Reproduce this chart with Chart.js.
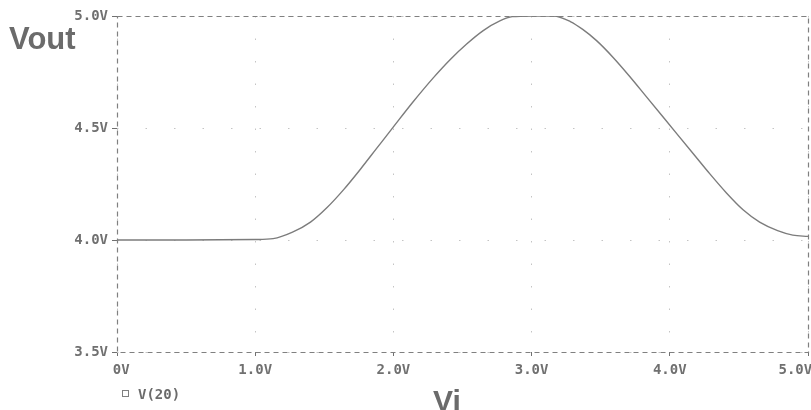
<!DOCTYPE html>
<html>
<head>
<meta charset="utf-8">
<script src="https://cdn.jsdelivr.net/npm/chart.js@4"></script>
<style>
  body { margin: 0; background: #fff; }
  #wrap { position: relative; width: 811px; height: 410px; overflow: hidden; }
  .lbl { position: absolute; color: #6b6b6b; white-space: nowrap; line-height: 1; }
  #vout { left: 9px; top: 21px; font: bold 31px "Liberation Sans", Arial, sans-serif; }
  #vi { left: 433px; top: 384px; font: bold 30px "Liberation Sans", Arial, sans-serif; }
  #leg { left: 138px; top: 386px; font: bold 14px "DejaVu Sans Mono", monospace; }
  #legBox { position: absolute; left: 122px; top: 390px; width: 5px; height: 5px; border: 1px solid #808080; }
</style>
</head>
<body>
<div id="wrap">
  <canvas id="grafico" width="811" height="410"></canvas>
  <div class="lbl" id="vout">Vout</div>
  <div class="lbl" id="vi">Vi</div>
  <div id="legBox"></div>
  <div class="lbl" id="leg">V(20)</div>
</div>
<script>
// Dati: tensione di ingresso Vi (V) e uscita V(20)
const viValues = [0, 0.5, 1.0, 1.13, 1.27, 1.40, 1.52, 1.64, 1.76, 1.88, 2.00, 2.14, 2.29, 2.41, 2.53, 2.65, 2.77, 2.86,
    3.0, 3.16, 3.28, 3.37, 3.47, 3.59, 3.71, 3.83, 3.95, 4.05, 4.17, 4.29, 4.41, 4.53, 4.65, 4.78, 4.89, 5.0];
const voutValues = [4.0, 4.0, 4.002, 4.006, 4.035, 4.08, 4.145, 4.225, 4.315, 4.41, 4.505, 4.615, 4.725, 4.805, 4.875, 4.935, 4.978, 4.997,
    5.0, 5.0, 4.975, 4.94, 4.89, 4.815, 4.73, 4.64, 4.55, 4.475, 4.385, 4.295, 4.21, 4.135, 4.08, 4.042, 4.022, 4.016];
const yTicks = [3.5, 4.0, 4.5, 5.0];
const xTicks = [0, 1, 2, 3, 4, 5];

const grigio = '#707070';

// Cornice tratteggiata attorno all'area del grafico
const cornice = {
    id: 'cornice',
    afterDraw(chart) {
        const a = chart.chartArea;
        const ctx = chart.ctx;
        ctx.save();
        ctx.strokeStyle = '#808080';
        ctx.lineWidth = 1.2;
        ctx.setLineDash([5, 4]);
        ctx.strokeRect(a.left + 0.5, a.top + 0.5, a.right - a.left, a.bottom - a.top);
        ctx.restore();
    }
};

const punti = viValues.map((v, i) => ({ x: v, y: voutValues[i] }));

const ctx = document.getElementById('grafico').getContext('2d');
new Chart(ctx, {
    type: 'line',
    data: {
        datasets: [{
            label: 'V(20)',
            data: punti,
            borderColor: '#7c7c7c',
            borderWidth: 1.4,
            pointRadius: 0,
            cubicInterpolationMode: 'monotone',
            fill: false
        }]
    },
    options: {
        responsive: false,
        animation: false,
        layout: { padding: { left: 0, top: 16, right: 3, bottom: 0 } },
        plugins: {
            legend: { display: false },
            tooltip: { enabled: false }
        },
        scales: {
            x: {
                type: 'linear',
                min: 0,
                max: 5,
                afterBuildTicks: s => { s.ticks = xTicks.map(v => ({ value: v })); },
                afterFit: s => { s.height = 58; s.paddingLeft = 0; s.paddingRight = 0; },
                ticks: {
                    color: grigio,
                    font: { family: 'DejaVu Sans Mono', size: 14, weight: 'bold' },
                    padding: 6,
                    maxRotation: 0,
                    // spazi per spostare la prima e l'ultima etichetta come nell'originale
                    callback: v => v === 0 ? ' 0V' : (v === 5 ? v.toFixed(1) + 'V   ' : v.toFixed(1) + 'V')
                },
                grid: { color: '#c4c4c4', lineWidth: 1, tickLength: 4, tickColor: grigio },
                border: { display: false, dash: [1.5, 21] }
            },
            y: {
                min: 3.5,
                max: 5.0,
                afterBuildTicks: s => { s.ticks = yTicks.map(v => ({ value: v })); },
                afterFit: s => { s.width = 117; },
                ticks: {
                    color: grigio,
                    font: { family: 'DejaVu Sans Mono', size: 14, weight: 'bold' },
                    padding: 4,
                    callback: v => v.toFixed(1) + 'V'
                },
                grid: { color: '#c4c4c4', lineWidth: 1, tickLength: 5, tickColor: grigio },
                border: { display: false, dash: [1.5, 27] }
            }
        }
    },
    plugins: [cornice]
});
</script>
</body>
</html>
